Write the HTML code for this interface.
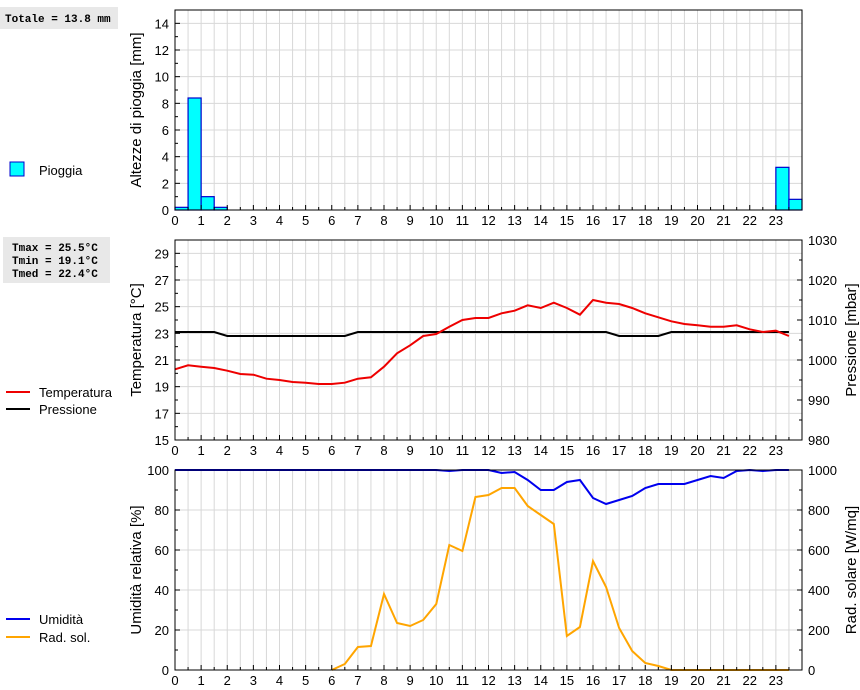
<!DOCTYPE html>
<html><head><meta charset="utf-8"><style>
body{margin:0;background:#fff;width:860px;height:690px;overflow:hidden;font-family:"Liberation Sans",sans-serif}
svg{position:absolute;left:0;top:0}
</style></head><body>
<svg id="c" width="860" height="690" xmlns="http://www.w3.org/2000/svg"></svg>
<script>
const hours=[0,0.5,1,1.5,2,2.5,3,3.5,4,4.5,5,5.5,6,6.5,7,7.5,8,8.5,9,9.5,10,10.5,11,11.5,12,12.5,13,13.5,14,14.5,15,15.5,16,16.5,17,17.5,18,18.5,19,19.5,20,20.5,21,21.5,22,22.5,23,23.5];
const rain=[0.2,8.4,1.0,0.2,0,0,0,0,0,0,0,0,0,0,0,0,0,0,0,0,0,0,0,0,0,0,0,0,0,0,0,0,0,0,0,0,0,0,0,0,0,0,0,0,0,0,3.2,0.8];
const temp=[20.3,20.6,20.5,20.4,20.2,19.95,19.9,19.6,19.5,19.35,19.3,19.2,19.2,19.3,19.6,19.7,20.5,21.5,22.1,22.8,22.95,23.5,24.0,24.15,24.15,24.5,24.7,25.1,24.9,25.3,24.9,24.4,25.5,25.3,25.2,24.9,24.5,24.2,23.9,23.7,23.6,23.5,23.5,23.6,23.3,23.1,23.2,22.8];
const press=[1007,1007,1007,1007,1006,1006,1006,1006,1006,1006,1006,1006,1006,1006,1007,1007,1007,1007,1007,1007,1007,1007,1007,1007,1007,1007,1007,1007,1007,1007,1007,1007,1007,1007,1006,1006,1006,1006,1007,1007,1007,1007,1007,1007,1007,1007,1007,1007];
const hum=[100,100,100,100,100,100,100,100,100,100,100,100,100,100,100,100,100,100,100,100,100,99.5,100,100,100,98.5,99,95,90,90,94,95,86,83,85,87,91,93,93,93,95,97,96,99.5,100,99.5,100,100];
const rad=[0,0,0,0,0,0,0,0,0,0,0,0,0,30,115,120,380,235,220,250,330,625,595,865,875,910,910,820,775,730,170,215,545,415,210,95,35,20,0,0,0,0,0,0,0,0,0,0];
const xTicks=[0,1,2,3,4,5,6,7,8,9,10,11,12,13,14,15,16,17,18,19,20,21,22,23];
const rainTicks=[0,2,4,6,8,10,12,14];
const tempTicks=[15,17,19,21,23,25,27,29];
const pressTicks=[980,990,1000,1010,1020,1030];
const humTicks=[0,20,40,60,80,100];
const radTicks=[0,200,400,600,800,1000];

const NS="http://www.w3.org/2000/svg";const svg=document.getElementById('c');
const X0=175,X1=802;const x=h=>X0+(X1-X0)*h/24;
function el(t,a,txt,name,parent){const e=document.createElementNS(NS,t);for(const k in a)e.setAttribute(k,a[k]);if(txt!==undefined&&txt!==null)e.textContent=txt;


(parent||svg).appendChild(e);return e;}
function panel(top,bot,ymin,ymax,ticks,minorStep,name){
 const y=v=>bot-(bot-top)*(v-ymin)/(ymax-ymin);
 const g=el('g',{},null,name);
 for(let h=0.5;h<24;h+=0.5)el('line',{x1:x(h),x2:x(h),y1:top,y2:bot,stroke:'#d8d8d8','stroke-width':1},null,'grid-v',g);
 ticks.forEach(t=>{if(t>ymin&&t<ymax)el('line',{x1:X0,x2:X1,y1:y(t),y2:y(t),stroke:'#d8d8d8','stroke-width':1},null,'grid-h',g);});
 return {y,g,top,bot};
}
function frame(p,ticks,lab,minor,ymin,ymax,side){
 const g=p.g;el('rect',{x:X0,y:p.top,width:X1-X0,height:p.bot-p.top,fill:'none',stroke:'#000'},null,'plot-frame',g);
 xTicks.forEach(h=>{el('line',{x1:x(h),x2:x(h),y1:p.bot,y2:p.bot-5,stroke:'#000'},null,'x-tick',g);
  el('text',{x:x(h),y:p.bot+15,'font-size':13,'text-anchor':'middle'},h,'x-tick-label',g);});
 for(let h=0.5;h<24;h+=1)el('line',{x1:x(h),x2:x(h),y1:p.bot,y2:p.bot-3,stroke:'#000'},null,'x-minor-tick',g);
}
function yAxis(p,ymin,ymax,ticks,minor,left,name){
 const y=v=>p.bot-(p.bot-p.top)*(v-ymin)/(ymax-ymin);
 const ax=left?X0:X1,d=left?1:-1;
 ticks.forEach(t=>{el('line',{x1:ax,x2:ax+d*5,y1:y(t),y2:y(t),stroke:'#000'},null,name+'-tick',p.g);
  el('text',{x:left?ax-6:ax+6,y:y(t)+5,'font-size':13,'text-anchor':left?'end':'start'},t,name+'-label',p.g);});
 for(let v=ymin+minor;v<ymax;v+=minor*2)el('line',{x1:ax,x2:ax+d*3,y1:y(v),y2:y(v),stroke:'#000'},null,name+'-minor',p.g);
}
function line(p,ymin,ymax,vals,color,name,startIdx){
 const y=v=>p.bot-(p.bot-p.top)*(v-ymin)/(ymax-ymin);
 const pts=vals.map((v,i)=>x(hours[i])+','+y(v).toFixed(1)).slice(startIdx||0).join(' ');
 el('polyline',{points:pts,fill:'none',stroke:color,'stroke-width':2},null,name,p.g);
}
// rain
const p1=panel(10,210,0,15,rainTicks,1,'rain-panel');
rain.forEach((v,i)=>{if(v>0){const y=p1.y(v);el('rect',{x:x(hours[i]),y:y,width:x(0.5)-x(0),height:210-y,fill:'#00ffff',stroke:'#0000cc','stroke-width':1.2},null,'rain-bar',p1.g);}});
frame(p1);yAxis(p1,0,15,rainTicks,1,true,'rain-axis');
// temp
const p2=panel(240,440,15,30,tempTicks,1,'temp-panel');
line(p2,980,1030,press,'#000','pressure-line');line(p2,15,30,temp,'#ee0000','temperature-line');
frame(p2);yAxis(p2,15,30,tempTicks,1,true,'temp-axis');yAxis(p2,980,1030,pressTicks,5,false,'press-axis');
// hum
const p3=panel(470,670,0,100,humTicks,10,'hum-panel');
line(p3,0,1000,rad,'#ffa500','radiation-line',12);line(p3,0,100,hum,'#0000ee','humidity-line');
frame(p3);yAxis(p3,0,100,humTicks,10,true,'hum-axis');yAxis(p3,0,1000,radTicks,100,false,'rad-axis');
// titles
function vt(cx,cy,t,n){el('text',{x:cx,y:cy,'font-size':15,'text-anchor':'middle',transform:`rotate(-90 ${cx} ${cy})`},t,n);}
vt(141,110,'Altezze di pioggia [mm]','rain-axis-title');
vt(141,340,'Temperatura [°C]','temp-axis-title');
vt(856,340,'Pressione [mbar]','press-axis-title');
vt(141,570,'Umidità relativa [%]','hum-axis-title');
vt(856,570,'Rad. solare [W/mq]','rad-axis-title');
// boxes
el('rect',{x:0,y:7,width:118,height:22,fill:'#e8e8e8'},null,'total-box');
el('text',{x:5,y:22,'font-size':11,'font-weight':'bold','font-family':'Liberation Mono,monospace'},'Totale = 13.8 mm','total-text');
el('rect',{x:3,y:237,width:107,height:46,fill:'#e8e8e8'},null,'stats-box');
['Tmax = 25.5°C','Tmin = 19.1°C','Tmed = 22.4°C'].forEach((t,i)=>el('text',{x:12,y:251+i*13,'font-size':11,'font-weight':'bold','font-family':'Liberation Mono,monospace'},t,'stats-text'));
// legends
el('rect',{x:10,y:162,width:14,height:14,fill:'#00ffff',stroke:'#0000cc'},null,'legend-rain-swatch');
el('text',{x:39,y:175,'font-size':13},'Pioggia','legend-rain');
[[392,'#ee0000','Temperatura'],[409,'#000','Pressione'],[619,'#0000ee','Umidità'],[637,'#ffa500','Rad. sol.']].forEach(([yy,c,t])=>{
 el('line',{x1:6,x2:30,y1:yy,y2:yy,stroke:c,'stroke-width':2},null,'legend-line');
 el('text',{x:39,y:yy+5,'font-size':13},t,'legend-entry');});
</script>
</body></html>
